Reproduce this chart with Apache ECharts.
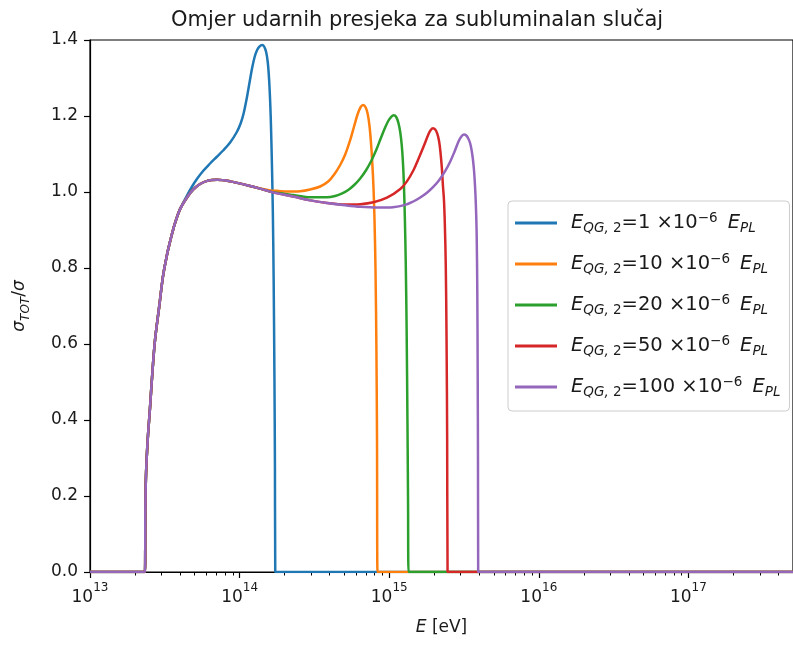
<!DOCTYPE html>
<html>
<head>
<meta charset="utf-8">
<script src="https://cdn.jsdelivr.net/npm/echarts@6/dist/echarts.min.js"></script>
<style>
html,body{margin:0;padding:0;background:#fff;}
#chart{width:793px;height:645px;}
</style>
</head>
<body>
<div id="chart"></div>
<script>
// ---- data ----
const qgValues = [1, 10, 20, 50, 100];
const colors = ['#1f77b4', '#ff7f0e', '#2ca02c', '#d62728', '#9467bd'];
const xMajorTicks = [1e13, 1e14, 1e15, 1e16, 1e17];
const yTicks = [0, 0.2, 0.4, 0.6, 0.8, 1.0, 1.2, 1.4];
const xMin = 1e13, xMax = 5e17;

// shared curve (all series coincide here until they branch off)
const common = [
  [2.33e13, 0], [2.345e13, 0.17], [2.37e13, 0.26], [2.43e13, 0.347], [2.52e13, 0.434],
  [2.61e13, 0.523], [2.72e13, 0.61], [2.90e13, 0.698], [3.08e13, 0.780], [3.26e13, 0.832],
  [3.43e13, 0.870], [3.70e13, 0.918], [4.00e13, 0.955], [4.44e13, 0.985], [4.89e13, 1.006],
  [5.44e13, 1.021], [6.15e13, 1.030], [7.07e13, 1.032], [8.64e13, 1.028], [1.12e14, 1.018],
  [1.37e14, 1.009], [1.60e14, 1.001], [2.28e14, 0.988], [2.97e14, 0.978], [3.85e14, 0.971],
  [5.08e14, 0.965], [6.40e14, 0.961], [8.32e14, 0.959], [1.06e15, 0.960], [1.28e15, 0.966]
];
// branch start energies
const branchAt = [4.1e13, 1.45e14, 1.65e14, 3.9e14, 1.3e15];

const branch1 = [
  [4.44e13, 0.99], [4.812e13, 1.0145], [5.196e13, 1.0347], [5.700e13, 1.0553], [6.348e13, 1.075],
  [7.018e13, 1.0921], [7.759e13, 1.1092], [8.642e13, 1.1303], [9.579e13, 1.1579], [1.0155e14, 1.1803],
  [1.0635e14, 1.2066], [1.1139e14, 1.2447], [1.1666e14, 1.2895], [1.2124e14, 1.3263], [1.2600e14, 1.3553],
  [1.3094e14, 1.3737], [1.3609e14, 1.3834], [1.4142e14, 1.3868], [1.4585e14, 1.3829], [1.5042e14, 1.3684],
  [1.5418e14, 1.3421], [1.5754e14, 1.2947], [1.6048e14, 1.2263], [1.6247e14, 1.1579], [1.6448e14, 1.0711],
  [1.6677e14, 0.9474], [1.6884e14, 0.7737], [1.7094e14, 0.5105], [1.7226e14, 0.2737], [1.7306e14, 0]
];
const branch10 = [
  [1.60e14, 1.004], [1.775e14, 1.003], [2.1e14, 1.001], [2.54e14, 1.002], [2.962e14, 1.0066],
  [3.456e14, 1.0145], [3.909e14, 1.0276], [4.287e14, 1.046], [4.701e14, 1.0711], [5.078e14, 1.0987],
  [5.484e14, 1.1368], [5.834e14, 1.1737], [6.157e14, 1.2053], [6.448e14, 1.2237], [6.700e14, 1.2289],
  [6.964e14, 1.2224], [7.182e14, 1.2053], [7.384e14, 1.1737], [7.556e14, 1.129], [7.709e14, 1.076],
  [7.853e14, 1.0105], [7.975e14, 0.926], [8.099e14, 0.795], [8.212e14, 0.584], [8.288e14, 0.347],
  [8.352e14, 0]
];
const branch20 = [
  [2.01e14, 0.995], [2.29e14, 0.992], [2.97e14, 0.986], [3.83e14, 0.986], [4.354e14, 0.9895],
  [4.849e14, 0.9961], [5.318e14, 1.0053], [5.834e14, 1.0184], [6.398e14, 1.0355], [7.018e14, 1.0579],
  [7.579e14, 1.0816], [8.185e14, 1.1105], [8.773e14, 1.1408], [9.331e14, 1.1671], [9.847e14, 1.1868],
  [1.0313e15, 1.1979], [1.0718e15, 1.2018], [1.1139e15, 1.1974], [1.1523e15, 1.1816], [1.1847e15, 1.1579],
  [1.2124e15, 1.1237], [1.2350e15, 1.0789], [1.2542e15, 1.0184], [1.2717e15, 0.9342], [1.2895e15, 0.8158],
  [1.3076e15, 0.6368], [1.3238e15, 0.40], [1.3361e15, 0.1895], [1.3464e15, 0]
];
const branch50 = [
  [5.08e14, 0.967], [6.40e14, 0.968], [7.85e14, 0.973], [9.66e14, 0.985], [1.186e15, 1.008],
  [1.313e15, 1.028], [1.455e15, 1.058], [1.56e15, 1.085], [1.695e15, 1.119], [1.832e15, 1.1526],
  [1.8951e15, 1.1632], [1.9604e15, 1.1679], [2.0311e15, 1.1645], [2.0947e15, 1.1539], [2.1536e15, 1.1342],
  [2.2038e15, 1.1026], [2.2484e15, 1.0632], [2.2868e15, 1.0158], [2.3223e15, 0.9789], [2.3547e15, 0.9132],
  [2.3876e15, 0.8079], [2.4172e15, 0.6105], [2.4397e15, 0.3474], [2.4547e15, 0]
];
const branch100 = [
  [1.4474e15, 0.975], [1.6122e15, 0.9855], [1.7957e15, 0.9987], [1.9695e15, 1.0132], [2.1602e15, 1.0316],
  [2.3692e15, 1.0553], [2.5586e15, 1.0803], [2.7422e15, 1.1079], [2.9163e15, 1.1342], [3.0543e15, 1.1474],
  [3.1646e15, 1.1513], [3.2736e15, 1.1487], [3.3762e15, 1.1408], [3.4712e15, 1.1289], [3.5522e15, 1.1105],
  [3.6241e15, 1.0868], [3.6861e15, 1.0579], [3.7432e15, 1.0184], [3.7955e15, 0.9658], [3.8426e15, 0.8868],
  [3.8783e15, 0.7421], [3.9023e15, 0.5316], [3.9203e15, 0.2947], [3.9325e15, 0]
];
const branches = [branch1, branch10, branch20, branch50, branch100];

// ---- build ----
const FONT = 'DejaVu Sans';
const xMinorTicks = [];
for (let p = 13; p <= 17; p++) for (let m = 2; m <= 9; m++) {
  const v = m * Math.pow(10, p);
  if (v <= xMax) xMinorTicks.push(v);
}

const series = qgValues.map((q, i) => {
  const data = [[xMin, 0]]
    .concat(common.filter(p => p[0] < branchAt[i]))
    .concat(branches[i])
    .concat([[xMax, 0]]);
  return {
    name: 'q' + q,
    type: 'line',
    data: data,
    symbol: 'none',
    smooth: 0.35,
    lineStyle: { color: colors[i], width: 2.5 },
    itemStyle: { color: colors[i] },
    z: 2 + i
  };
});

const TXT = '#1a1a1a';
const legendRich = {
  g: { width: 9 },
  e: { fontFamily: FONT, fontStyle: 'italic', fontSize: 19.5, color: TXT, lineHeight: 24, verticalAlign: 'middle' },
  r: { fontFamily: FONT, fontSize: 19.5, color: TXT, lineHeight: 24, verticalAlign: 'middle' },
  sub: { fontFamily: FONT, fontStyle: 'italic', fontSize: 13.5, color: TXT, lineHeight: 14, verticalAlign: 'bottom' },
  subr: { fontFamily: FONT, fontSize: 13.5, color: TXT, lineHeight: 14, verticalAlign: 'bottom' },
  sup: { fontFamily: FONT, fontSize: 13.5, color: TXT, lineHeight: 14, verticalAlign: 'top' }
};

const option = {
  animation: false,
  backgroundColor: '#fff',
  title: {
    text: 'Omjer udarnih presjeka za subluminalan slučaj',
    left: 166, top: 5,
    textStyle: { fontFamily: FONT, fontSize: 21, fontWeight: 'normal', color: TXT }
  },
  grid: {
    left: 90, top: 40, right: 0, bottom: 73,
    show: true, borderColor: '#000', borderWidth: 1.2, backgroundColor: 'transparent'
  },
  legend: {
    orient: 'vertical',
    left: 508, top: 201,
    padding: [10, 9, 12, 7],
    itemWidth: 42, itemHeight: 3, itemGap: 17,
    icon: 'rect',
    selectedMode: false,
    backgroundColor: 'rgba(255,255,255,0.85)',
    borderColor: '#cccccc', borderWidth: 1, borderRadius: 4,
    data: qgValues.map(q => 'q' + q),
    formatter: name => {
      const v = name.slice(1);
      return '{g|}{e|E}{sub|QG,}{subr| 2}{r|=' + v + ' \u00d710}{sup|\u22126}{r| \u2009}{e|E}{sub|PL}';
    },
    textStyle: { fontFamily: FONT, fontSize: 19.5, rich: legendRich }
  },
  xAxis: [{
    type: 'log', logBase: 10, min: xMin, max: xMax,
    name: '{e|E}{r| [eV]}',
    nameLocation: 'middle', nameGap: 47,
    nameTextStyle: {
      rich: {
        e: { fontFamily: FONT, fontStyle: 'italic', fontSize: 17, color: TXT },
        r: { fontFamily: FONT, fontSize: 17, color: TXT }
      }
    },
    axisLine: { show: true, onZero: false, lineStyle: { color: '#000', width: 1.2 } },
    axisTick: { show: true, inside: false, length: 6, lineStyle: { color: '#000', width: 1.2 }, customValues: xMajorTicks },
    axisLabel: {
      show: true, margin: 10, customValues: xMajorTicks,
      formatter: v => '{b|10}{s|' + Math.round(Math.log10(v)) + '}',
      rich: {
        b: { fontFamily: FONT, fontSize: 17, color: TXT, lineHeight: 24, verticalAlign: 'bottom' },
        s: { fontFamily: FONT, fontSize: 12, color: TXT, lineHeight: 24, verticalAlign: 'top' }
      }
    },
    splitLine: { show: false }
  }, {
    type: 'log', logBase: 10, min: xMin, max: xMax, gridIndex: 0, position: 'bottom',
    axisLine: { show: false },
    axisTick: { show: true, inside: false, length: 3.5, lineStyle: { color: '#000', width: 1 }, customValues: xMinorTicks },
    axisLabel: { show: false },
    splitLine: { show: false }
  }],
  yAxis: {
    type: 'value', min: 0, max: 1.4, interval: 0.2,
    name: '{i|\u03c3}{sub|TOT}{r|/}{i|\u03c3}',
    nameLocation: 'middle', nameGap: 58, nameRotate: 90,
    nameTextStyle: {
      rich: {
        i: { fontFamily: FONT, fontStyle: 'italic', fontSize: 17, color: TXT, lineHeight: 24, verticalAlign: 'middle' },
        r: { fontFamily: FONT, fontSize: 17, color: TXT, lineHeight: 24, verticalAlign: 'middle' },
        sub: { fontFamily: FONT, fontStyle: 'italic', fontSize: 12, color: TXT, lineHeight: 14, verticalAlign: 'bottom' }
      }
    },
    axisLine: { show: true, lineStyle: { color: '#000', width: 1.2 } },
    axisTick: { show: true, inside: false, length: 6, lineStyle: { color: '#000', width: 1.2 } },
    axisLabel: {
      margin: 12, fontFamily: FONT, fontSize: 17, color: TXT,
      customValues: yTicks,
      formatter: v => v.toFixed(1)
    },
    splitLine: { show: false }
  },
  series: series
};

const chart = echarts.init(document.getElementById('chart'), null, { renderer: 'canvas' });
chart.setOption(option);
</script>
</body>
</html>
